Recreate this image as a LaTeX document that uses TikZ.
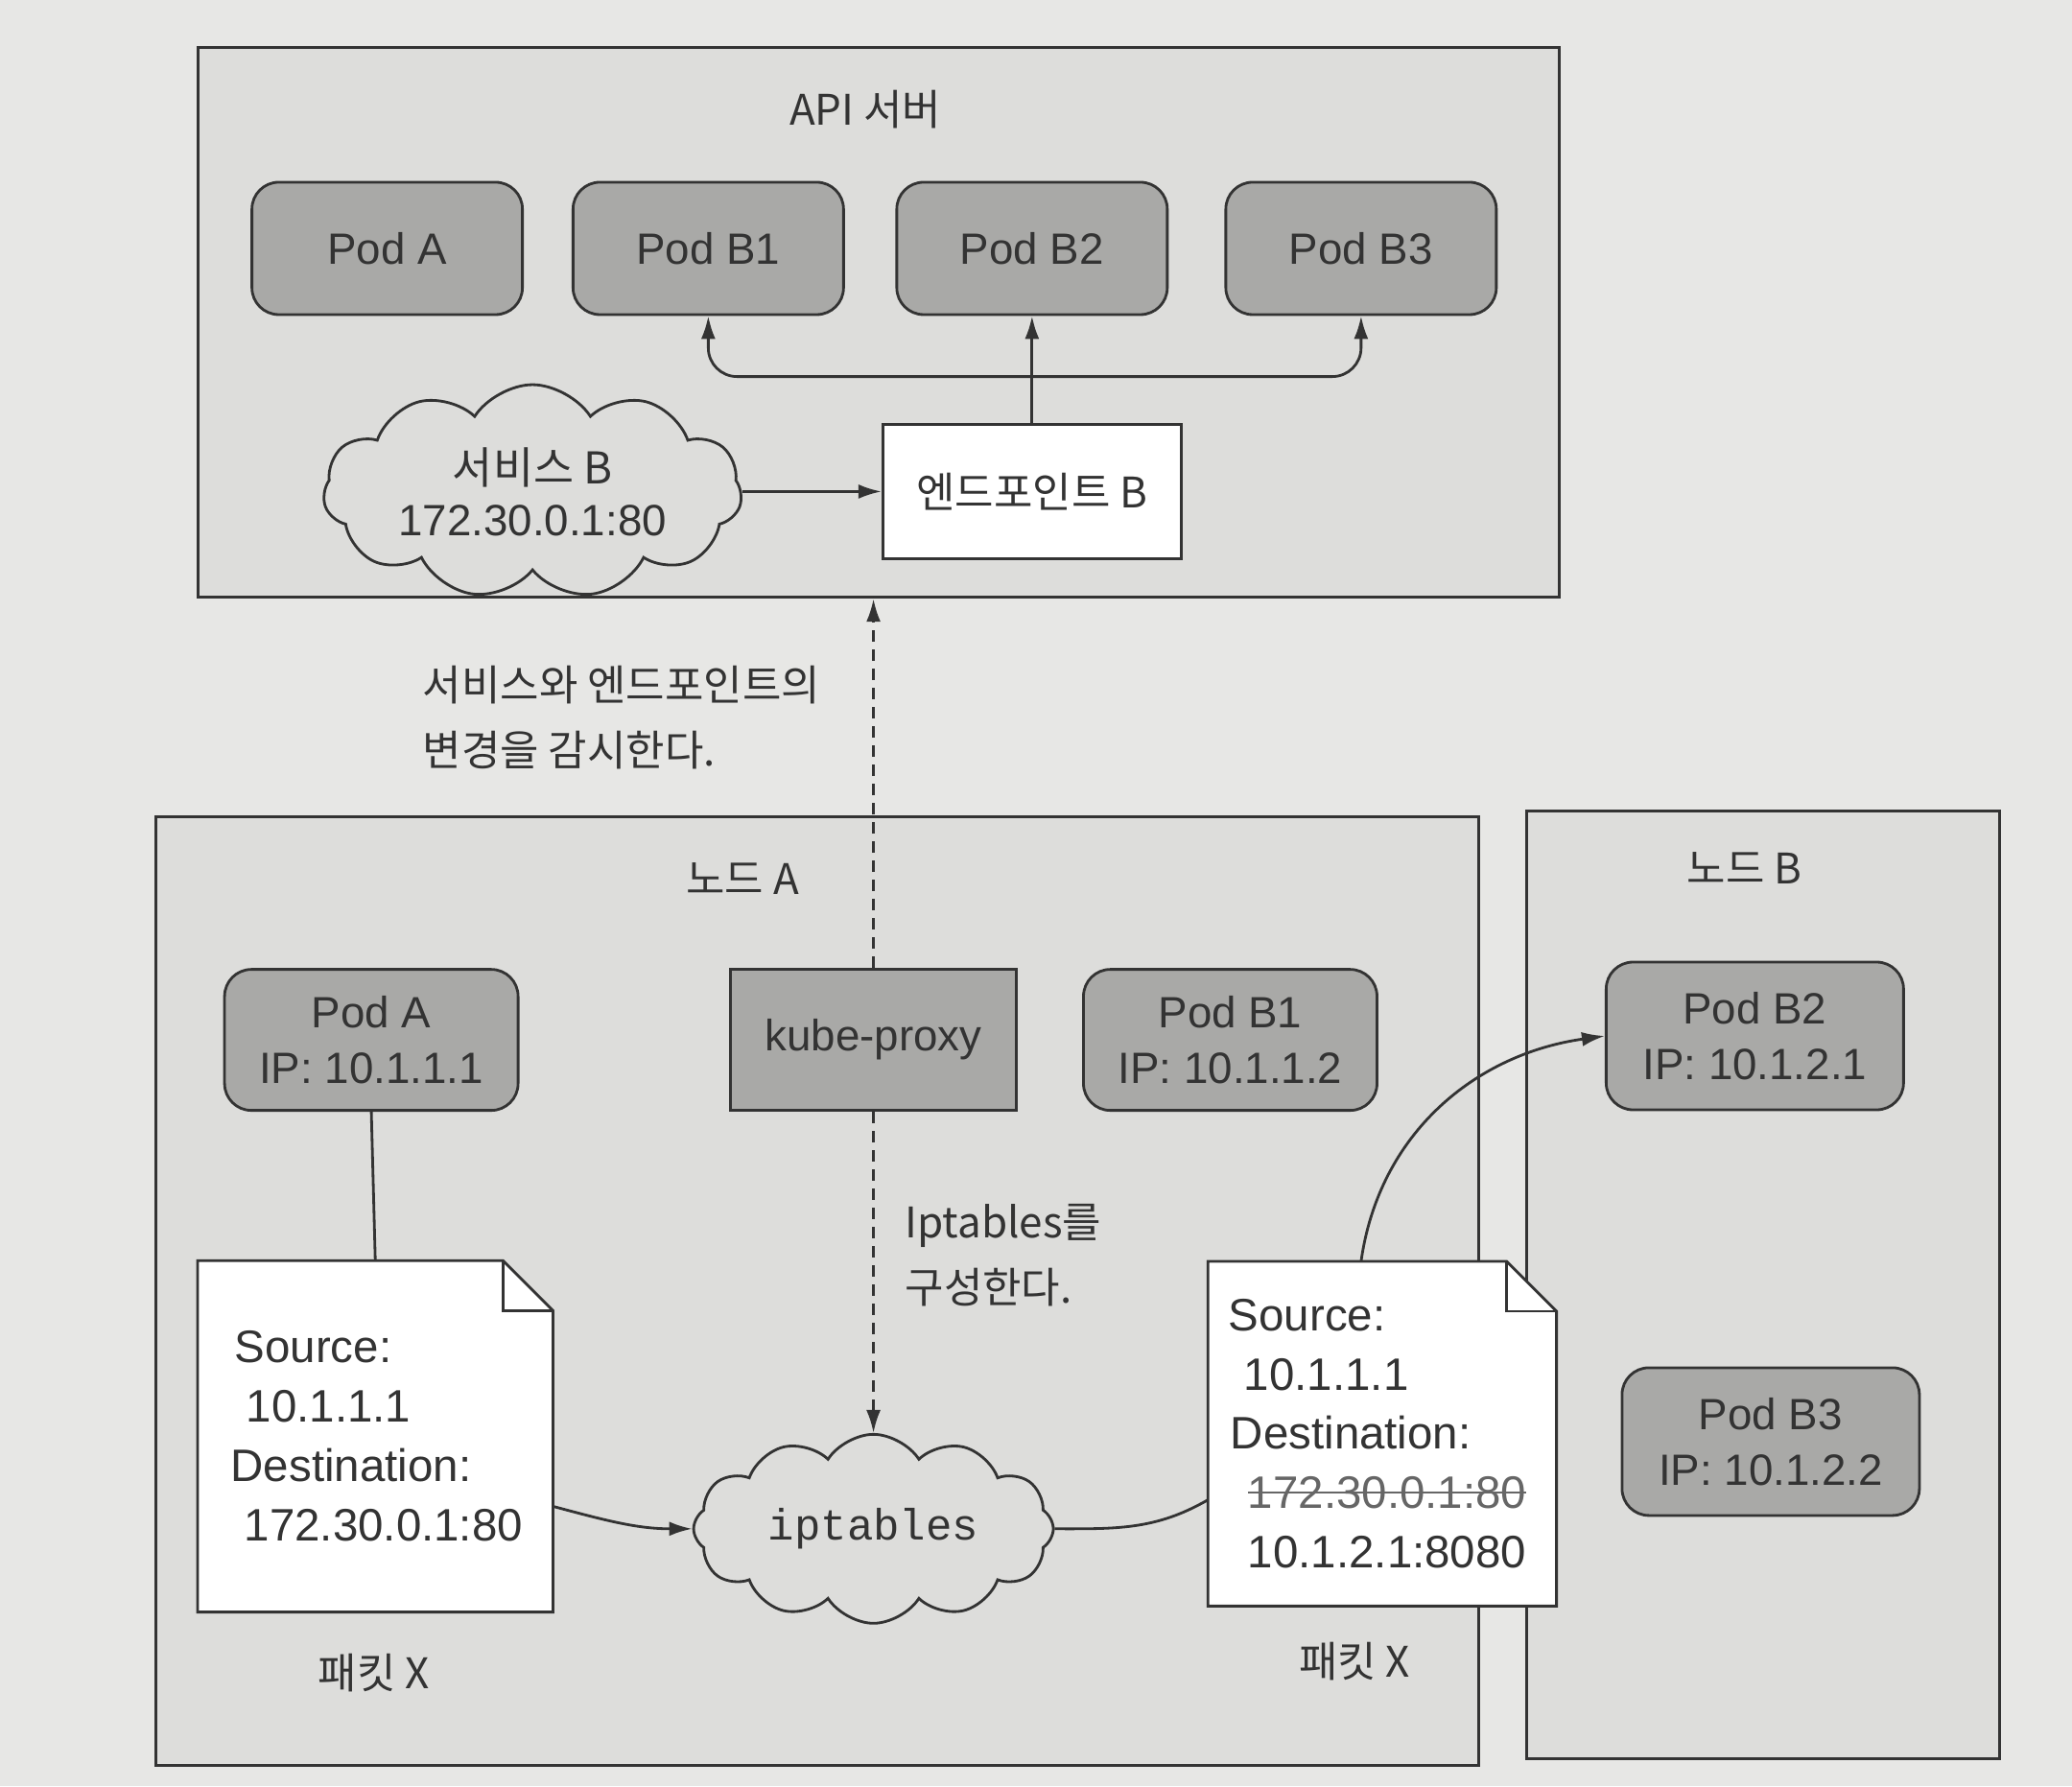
\documentclass[tikz,border=0pt]{standalone}
\usepackage{fontspec}
\setmainfont{Liberation Sans}
\setmonofont{Liberation Mono}
\newfontfamily\kr{Noto Sans CJK KR}
\usetikzlibrary{shapes.symbols,arrows.meta}

\definecolor{paper}{HTML}{E7E7E5}
\definecolor{framefill}{HTML}{DDDDDB}
\definecolor{podfill}{HTML}{A9A9A7}
\definecolor{ink}{HTML}{333333}

\newsavebox\strkbox
\newcommand\strikeit[1]{\sbox\strkbox{#1}\rlap{\usebox\strkbox}\rule[0.33em]{\wd\strkbox}{0.6pt}}

\pgfdeclarelayer{frames}
\pgfdeclarelayer{docbg}
\pgfsetlayers{frames,docbg,main}

\tikzset{
  txt/.style={font=\fontsize{13}{16.4}\selectfont, text=ink},
  ktxt/.style={font=\fontsize{12.5}{19.5}\kr, text=ink},
  frame/.style={draw=ink, line width=0.9pt, fill=framefill},
  pod/.style={txt, draw=ink, line width=0.8pt, fill=podfill, rounded corners=2.8mm, align=center},
  box/.style={draw=ink, line width=0.8pt, align=center},
  cloudy/.style={cloud, cloud puffs=11, cloud puff arc=115, cloud ignores aspect, draw=ink, line width=0.8pt, align=center},
  doc/.style={font=\fontsize{13.5}{17.6}\selectfont, text=ink, align=left, inner ysep=0pt},
  docline/.style={draw=ink, line width=0.8pt},
  conn/.style={draw=ink, line width=0.8pt},
  arr/.style={conn, -{Latex[length=2.4mm,width=1.5mm]}},
  dasharr/.style={arr, dash pattern=on 1.2mm off 0.8mm}
}

\begin{document}
\begin{tikzpicture}[x=0.13776mm, y=-0.13776mm]
  % frames
  \begin{pgfonlayer}{frames}
    \fill[paper] (0,0) rectangle (1568,1352);
    \node[frame, minimum width=141.9mm, minimum height=57.3mm] (api) at (665,244) {};
    \node[frame, minimum width=137.9mm, minimum height=98.9mm] (nodea) at (618.5,977) {};
    \node[frame, minimum width=49.3mm, minimum height=98.8mm] (nodeb) at (1334,972.5) {};
  \end{pgfonlayer}

  \node[ktxt] (apititle) at (655,83) {API 서버};
  \node[ktxt] (nodeatitle) at (562,665) {노드 A};
  \node[ktxt] (nodebtitle) at (1320,657) {노드 B};

  % API server
  \node[pod, minimum width=28.2mm, minimum height=13.8mm] (apoda) at (293,188) {Pod A};
  \node[pod, minimum width=28.2mm, minimum height=13.8mm] (apodb1) at (536,188) {Pod B1};
  \node[pod, minimum width=28.2mm, minimum height=13.8mm] (apodb2) at (781,188) {Pod B2};
  \node[pod, minimum width=28.2mm, minimum height=13.8mm] (apodb3) at (1030,188) {Pod B3};

  \node[box, ktxt, fill=white, minimum width=31.1mm, minimum height=14mm] (ep) at (781,372) {엔드포인트 B};
  \node[cloudy, txt, font=\fontsize{13}{15.3}\selectfont, minimum width=40.6mm, minimum height=19.3mm] (svc) at (403,372) {{\kr 서비스 B}\\172.30.0.1:80};
  \coordinate (split) at (781,285);

  \draw[arr] (svc.east) -- (ep.west);
  \draw[arr] (ep.north) -- (apodb2.south);
  \draw[conn, {Latex[length=2.4mm,width=1.5mm]}-{Latex[length=2.4mm,width=1.5mm]}, rounded corners=3mm] (apodb1.south) |- (split) -| (apodb3.south);

  % node A
  \node[pod, minimum width=30.6mm, minimum height=14.7mm] (poda) at (281,787) {Pod A\\IP: 10.1.1.1};
  \node[box, txt, fill=podfill, minimum width=29.8mm, minimum height=14.7mm] (kp) at (661,787) {kube-proxy};
  \node[pod, minimum width=30.6mm, minimum height=14.7mm] (podb1) at (931,787) {Pod B1\\IP: 10.1.1.2};

  \draw[dasharr] (kp.north) -- (kp.north |- api.south);
  \node[ktxt, align=left, anchor=west] (watch) at (311,543) {서비스와 엔드포인트의\\변경을 감시한다.};

  \node[cloudy, font=\fontsize{13}{15}\ttfamily, text=ink, cloud puffs=12, minimum width=37.5mm, minimum height=19.7mm] (ipt) at (661,1157) {iptables};
  \draw[dasharr] (kp.south) -- (ipt.north);
  \node[ktxt, align=left, anchor=west] (config) at (676,950) {Iptables를\\구성한다.};

  % packets
  \node[doc, inner xsep=3.4mm, text width=30.1mm, minimum height=36.5mm] (docl) at (284,1087)
    {\hspace*{0.4mm}Source:\\\hspace*{1.6mm}10.1.1.1\\Destination:\\\hspace*{1.4mm}172.30.0.1:80};
  \node[doc, inner xsep=2.1mm, text width=32mm, minimum height=35.8mm] (docr) at (1046,1085)
    {Source:\\\hspace*{1.6mm}10.1.1.1\\\hspace*{0.2mm}Destination:\\\hspace*{2mm}{\color{ink!75}\strikeit{172.30.0.1:80}}\\\hspace*{2mm}10.1.2.1:8080};
  \begin{pgfonlayer}{docbg}
    \draw[docline, fill=white] (docl.south west) -- (docl.north west) -- ([xshift=-5.2mm]docl.north east)
      -- ([yshift=-5.2mm]docl.north east) -- (docl.south east) -- cycle;
    \draw[docline] ([xshift=-5.2mm]docl.north east) |- ([yshift=-5.2mm]docl.north east);
    \draw[docline, fill=white] (docr.south west) -- (docr.north west) -- ([xshift=-5.2mm]docr.north east)
      -- ([yshift=-5.2mm]docr.north east) -- (docr.south east) -- cycle;
    \draw[docline] ([xshift=-5.2mm]docr.north east) |- ([yshift=-5.2mm]docr.north east);
  \end{pgfonlayer}
  \node[ktxt] (pktl) at (283,1266) {패킷 X};
  \node[ktxt] (pktr) at (1025,1257) {패킷 X};

  \draw[conn] (poda.south) -- (docl.north);
  \draw[arr] ([yshift=-7.3mm]docl.east) to[out=-15,in=180] (ipt.west);
  \draw[conn] (ipt.east) to[out=0,in=210] ([yshift=-6.9mm]docr.west);

  % node B
  \node[pod, minimum width=31mm, minimum height=15.4mm] (podb2) at (1328,784) {Pod B2\\IP: 10.1.2.1};
  \node[pod, minimum width=31mm, minimum height=15.4mm] (podb3) at (1340,1091) {Pod B3\\IP: 10.1.2.2};

  \draw[arr] ([xshift=-2.2mm]docr.north) to[out=82,in=188] (podb2.west);
\end{tikzpicture}
\end{document}
